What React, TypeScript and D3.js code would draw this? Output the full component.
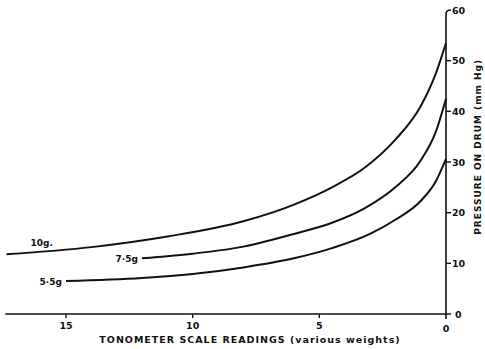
import React from "react";
import * as d3 from "d3";

const W = 485;
const H = 349;

const xTicks = [15, 10, 5, 0];
const yTicks = [0, 10, 20, 30, 40, 50, 60];

const read10 = [17.35, 14, 11, 8, 6, 4.5, 3.2, 2, 1, 0.4, 0];
const pres10 = [11.8, 13.2, 15.3, 18.3, 21.6, 25.0, 28.9, 34.4, 41, 47.5, 53.5];

const read75 = [12, 10, 8, 6, 4.5, 3.2, 2, 1, 0.4, 0];
const pres75 = [11.0, 11.9, 13.3, 15.8, 18.0, 20.9, 25.0, 30.3, 36.0, 42.5];

const read55 = [15, 12, 10, 8, 6, 4.5, 3, 2, 1, 0.4, 0];
const pres55 = [6.5, 7.1, 7.9, 9.2, 11.0, 13.0, 15.8, 18.6, 22.3, 26.2, 30.6];

const seriesLabels = ["10g.", "7·5g", "5·5g"];

export default function App() {
  const x = d3.scaleLinear().domain([0, 15]).range([446, 66]);
  const y = d3.scaleLinear().domain([0, 60]).range([314, 10]);

  const line = d3
    .line<[number, number]>()
    .x((d) => x(d[0]))
    .y((d) => y(d[1]))
    .curve(d3.curveMonotoneX);

  const series = [
    { r: read10, p: pres10 },
    { r: read75, p: pres75 },
    { r: read55, p: pres55 },
  ];

  const font = "'DejaVu Sans', sans-serif";
  const xEnd = x(17.4);

  const labelPos = [
    { x: x(read10[0]) + 24, y: y(pres10[0]) - 8, anchor: "start" },
    { x: x(read75[0]) - 4, y: y(pres75[0]) + 3.5, anchor: "end" },
    { x: x(read55[0]) - 4, y: y(pres55[0]) + 3.5, anchor: "end" },
  ];

  return (
    <svg
      width={W}
      height={H}
      style={{ position: "absolute", left: 0, top: 0, background: "#fff" }}
    >
      {/* x axis */}
      <line x1={xEnd} x2={x(0) + 5} y1={y(0)} y2={y(0)} stroke="#111" strokeWidth={1.6} />
      {xTicks.map((t) => (
        <g key={"xt" + t}>
          {t !== 0 && (
            <line x1={x(t)} x2={x(t)} y1={y(0)} y2={y(0) + 4} stroke="#111" strokeWidth={1.4} />
          )}
          <text
            x={x(t)}
            y={t === 0 ? y(0) + 18 : y(0) + 15}
            textAnchor="middle"
            fontFamily={font}
            fontWeight="bold"
            fontSize={9.5}
            fill="#111"
          >
            {t}
          </text>
        </g>
      ))}
      {/* y axis */}
      <path
        d={`M${x(0)},${y(0) + 5} L${x(0)},${y(60) + 4} Q${x(0)},${y(60)} ${x(0) + 5},${y(60)}`}
        fill="none"
        stroke="#111"
        strokeWidth={1.6}
      />
      {yTicks.map((t) => (
        <g key={"yt" + t}>
          {t !== 0 && t !== 60 && (
            <line x1={x(0)} x2={x(0) + 5} y1={y(t)} y2={y(t)} stroke="#111" strokeWidth={1.4} />
          )}
          <text
            x={x(0) + (t === 0 ? 9 : 6)}
            y={y(t) + 3.5}
            textAnchor="start"
            fontFamily={font}
            fontWeight="bold"
            fontSize={9.5}
            fill="#111"
          >
            {t}
          </text>
        </g>
      ))}
      {/* curves */}
      {series.map((s, i) => (
        <path
          key={"s" + i}
          d={line(s.r.map((r, j) => [r, s.p[j]] as [number, number])) || ""}
          fill="none"
          stroke="#111"
          strokeWidth={2}
        />
      ))}
      {seriesLabels.map((l, i) => (
        <text
          key={"l" + i}
          x={labelPos[i].x}
          y={labelPos[i].y}
          textAnchor={labelPos[i].anchor as any}
          fontFamily={font}
          fontWeight="bold"
          fontSize={9}
          fill="#111"
        >
          {l}
        </text>
      ))}
      {/* axis titles */}
      <text
        x={250}
        y={343}
        textAnchor="middle"
        fontFamily={font}
        fontWeight="bold"
        fontSize={9.5}
        letterSpacing={1}
        fill="#111"
      >
        TONOMETER SCALE READINGS (various weights)
      </text>
      <text
        transform={`translate(481,${y(33)}) rotate(-90)`}
        textAnchor="middle"
        fontFamily={font}
        fontWeight="bold"
        fontSize={9}
        letterSpacing={1}
        fill="#111"
      >
        PRESSURE ON DRUM (mm Hg)
      </text>
    </svg>
  );
}
